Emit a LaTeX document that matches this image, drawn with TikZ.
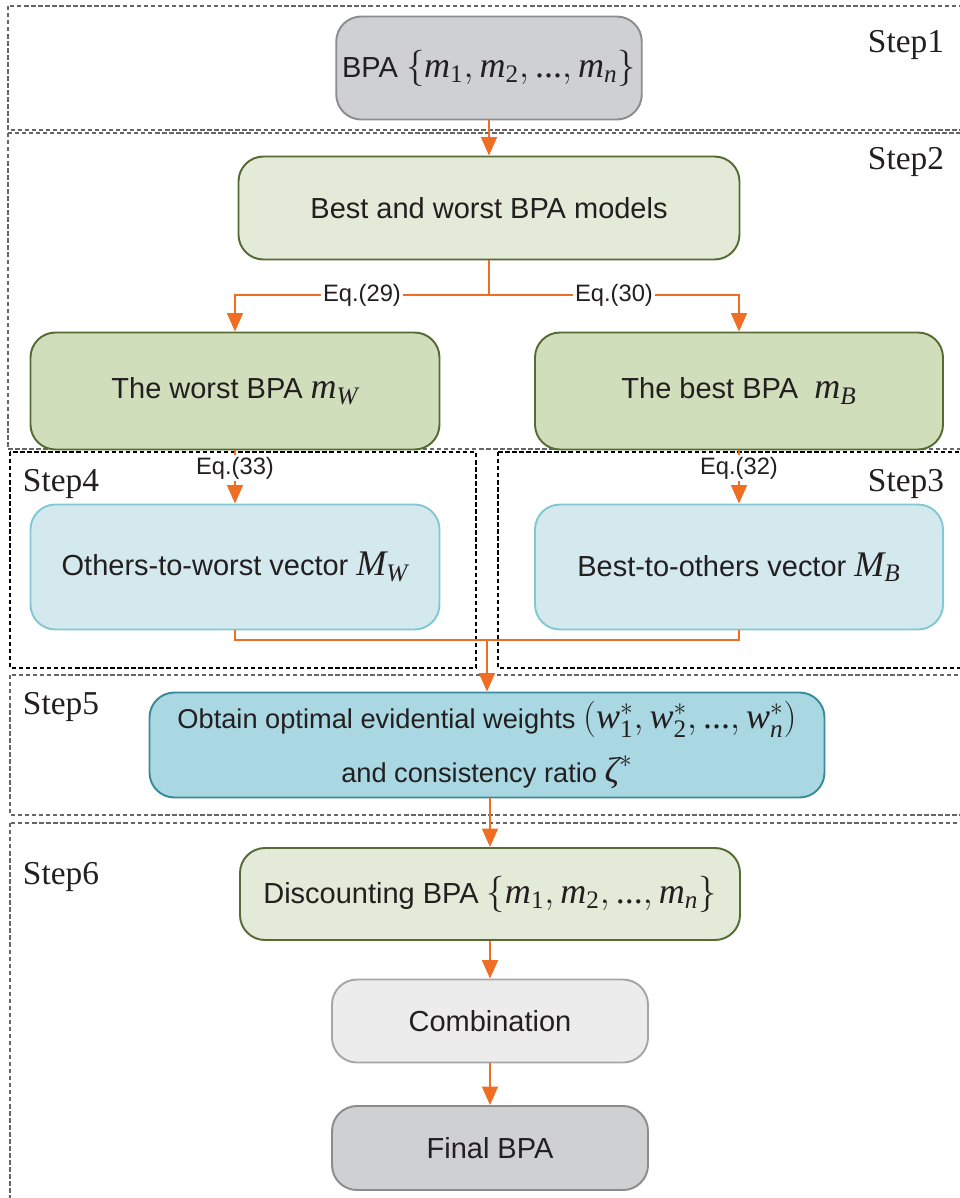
\documentclass[tikz,border=0pt]{standalone}
\usepackage{amsmath}
\usepackage{fontspec}
\setsansfont{Liberation Sans}
\newfontfamily\stepfont{Liberation Serif}
\usepackage{tikz}
\usetikzlibrary{arrows.meta, positioning, calc}
\definecolor{ARW}{HTML}{F06E24}
\definecolor{TXT}{HTML}{231F20}
\definecolor{GRY}{HTML}{CFD0D2}
\definecolor{GRYB}{HTML}{8C8C8C}
\definecolor{LGR}{HTML}{E4EAD8}
\definecolor{MGR}{HTML}{D1DEBC}
\definecolor{GRB}{HTML}{566A34}
\definecolor{LBL}{HTML}{D3E9EE}
\definecolor{LBLB}{HTML}{82C8D4}
\definecolor{TEAL}{HTML}{A9D8E3}
\definecolor{TEALB}{HTML}{3B8A9C}
\definecolor{PAL}{HTML}{ECECEC}
\definecolor{PALB}{HTML}{A6A6A6}
\def\px{0.02cm}
% Times-like symbols inside the formulas
\newcommand\mv[1]{\text{\stepfont\itshape #1}}
\newcommand\mn[1]{\text{\stepfont #1}}
\newcommand\fm[1]{{\fontsize{20.5}{24}\selectfont$#1$}}
\tikzset{
  box/.style={% Style for all the process boxes
      rectangle, rounded corners=0.5cm,
      line width=1.1pt,
      align=center,
      text=TXT,
      font=\sffamily\fontsize{16.5}{24}\selectfont,
  },
  gray/.style={box, fill=GRY, draw=GRYB},
  pale/.style={box, fill=PAL, draw=PALB},
  lgreen/.style={box, fill=LGR, draw=GRB},
  mgreen/.style={box, fill=MGR, draw=GRB},
  lblue/.style={box, fill=LBL, draw=LBLB},
  teal/.style={box, fill=TEAL, draw=TEALB, font=\sffamily\fontsize{15.5}{29}\selectfont},
  arr/.style={% orange connector with a head
      draw=ARW, line width=1.1pt,
      -{Triangle[length=10.5pt, width=9pt]},
  },
  wire/.style={draw=ARW, line width=1.1pt},
  eqlab/.style={fill=white, inner sep=1pt, text=TXT,
      font=\sffamily\fontsize{13.5}{15}\selectfont},
  steplab/.style={text=TXT, font=\stepfont\fontsize{19}{22}\selectfont},
  frame/.style={dash pattern=on 2.5pt off 1.5pt, line width=0.6pt},
}
\def\stage(#1)(#2)#3{% dashed frame from corner #1 to corner #2 in colour #3
  \draw[frame, draw=#3] (#1) rectangle (#2);
}

\begin{document}
\begin{tikzpicture}[x=\px, y=-\px]
    \useasboundingbox (0,0) rectangle (960,1198);
    % step frames
    \stage(8,6)(966,130){black!60}
    \stage(8,133)(966,449){black!60}
    \stage(10,452)(476,668){black}
    \stage(498,452)(966,668){black}
    \stage(10,675)(966,815){black!60}
    \stage(10,823)(966,1205){black!60}
    \node[steplab] (step1) at (906,45) {Step1};
    \node[steplab] (step2) at (906,162) {Step2};
    \node[steplab] (step3) at (906,484) {Step3};
    \node[steplab] (step4) at (61,484) {Step4};
    \node[steplab] (step5) at (61,707) {Step5};
    \node[steplab] (step6) at (61,877) {Step6};
    % boxes
    \node[gray, minimum width=302*\px, minimum height=103*\px] (bpa) at (489,68)
      {BPA \fm{\{\mv{m}_{\mn{1}},\mv{m}_{\mn{2}},\mn{...},\mv{m}_{\mv{n}}\}}};
    \node[lgreen, minimum width=501*\px, minimum height=103*\px] (models) at (489,208)
      {Best and worst BPA models};
    \node[mgreen, minimum width=409*\px, minimum height=117*\px] (worst) at (235,391)
      {The worst BPA \fm{\mv{m}_{\mv{W}}}};
    \node[mgreen, minimum width=408*\px, minimum height=117*\px] (best) at (739,391)
      {The best BPA \ \fm{\mv{m}_{\mv{B}}}};
    \node[lblue, minimum width=409*\px, minimum height=125*\px] (otw) at (235,567)
      {Others-to-worst vector \fm{\mv{M}_{\mv{W}}}};
    \node[lblue, minimum width=408*\px, minimum height=125*\px] (bto) at (739,567)
      {Best-to-others vector \fm{\mv{M}_{\mv{B}}}};
    \node[teal, minimum width=675*\px, minimum height=105*\px] (opt) at (487,745)
      {Obtain optimal evidential weights
       \fm{(\mv{w}_{\mn{1}}^{*},\mv{w}_{\mn{2}}^{*},\mn{...},\mv{w}_{\mv{n}}^{*})}\\[2pt]
       and consistency ratio \fm{\mv{ζ}^{*}}};
    \node[lgreen, minimum width=500*\px, minimum height=92*\px] (disc) at (490,894)
      {Discounting BPA \fm{\{\mv{m}_{\mn{1}},\mv{m}_{\mn{2}},\mn{...},\mv{m}_{\mv{n}}\}}};
    \node[pale, minimum width=316*\px, minimum height=83*\px] (comb) at (490,1021)
      {Combination};
    \node[gray, minimum width=316*\px, minimum height=84*\px] (final) at (490,1148)
      {Final BPA};
    % connectors
    \coordinate (split) at (489,295);
    \coordinate (merge) at (487,640);
    \draw[arr] (bpa) -- (models);
    \draw[wire] (models) -- (split);
    \draw[arr] (split) -| node[eqlab, pos=0.25] (eq29) {Eq.(29)} (worst);
    \draw[arr] (split) -| node[eqlab, pos=0.25] (eq30) {Eq.(30)} (best);
    \draw[arr] (worst) -- node[eqlab, pos=0.33] (eq33) {Eq.(33)} (otw);
    \draw[arr] (best) -- node[eqlab, pos=0.33] (eq32) {Eq.(32)} (bto);
    \draw[wire] (otw.south) |- (merge) -| (bto.south);
    \draw[arr] (merge) -- (opt.north -| merge);
    \draw[arr] (opt.south -| disc.north) -- (disc);
    \draw[arr] (disc) -- (comb);
    \draw[arr] (comb) -- (final);
\end{tikzpicture}
\end{document}
